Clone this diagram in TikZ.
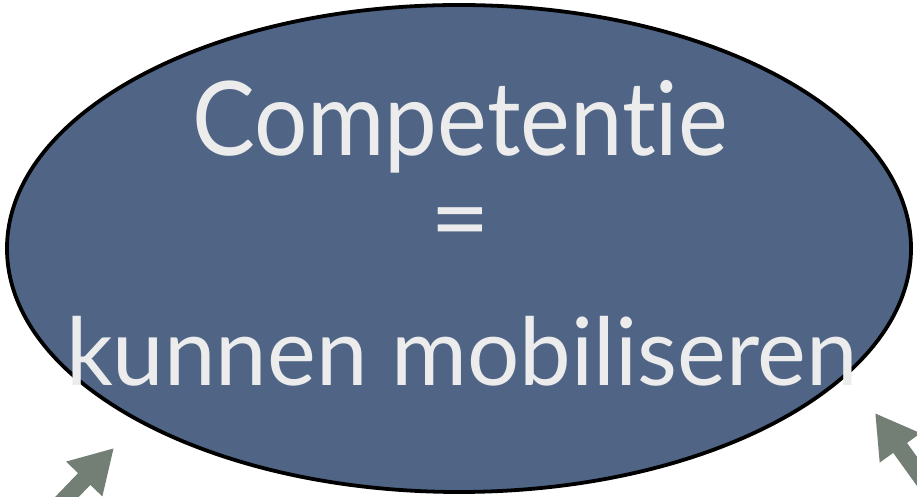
\documentclass[tikz,border=0pt]{standalone}
\usepackage{fontspec}
\setmainfont{Lato}[Ligatures={NoCommon,NoRequired,NoContextual}]
\usetikzlibrary{arrows.meta,shapes.geometric}
\definecolor{ellfill}{RGB}{80,101,134}
\definecolor{txtcol}{RGB}{236,236,236}
\definecolor{arrcol}{RGB}{115,126,116}
\newsavebox\boxA
\newsavebox\boxB
\newsavebox\boxC
\tikzset{
  arrowline/.style={draw=arrcol, line width=17pt,
    -{Triangle[length=43pt,width=47pt]}, arrcol},
  bigellipse/.style={ellipse, draw=black, line width=3.8pt, fill=ellfill,
    minimum width=904pt, minimum height=487pt, inner sep=0pt},
  bigtext/.style={text=txtcol, inner sep=0pt, outer sep=0pt}
}
\begin{document}
\sbox\boxA{\color{txtcol}\fontsize{103}{103}\selectfont Competent\kern0pt ie}%
\sbox\boxB{\color{txtcol}\fontsize{94}{94}\selectfont kunnen mobiliseren}%
\sbox\boxC{\color{txtcol}\fontsize{103}{103}\selectfont =}%
\pgfmathsetmacro\sA{536/\wd\boxA}%
\pgfmathsetmacro\sB{792/\wd\boxB}%
\begin{tikzpicture}[x=1pt,y=1pt]
\useasboundingbox (0,0) rectangle (917,497);
\clip (0,0) rectangle (917,497);
\fill[white] (0,0) rectangle (917,497);
% arrows
\coordinate (la0) at (40,-28);
\coordinate (la1) at (114,49);
\coordinate (ra0) at (934,2);
\coordinate (ra1) at (875,84);
\draw[arrowline] (la0) -- (la1);
\draw[arrowline] (ra0) -- (ra1);
% ellipse
\node[bigellipse] (ell) at (459,248.5) {};
% texts
\node[bigtext, anchor=base, xscale=\sA] (l1) at (460,341) {\usebox\boxA};
\node[bigtext, anchor=center] (eq) at (460,265.5) {\usebox\boxC};
\node[bigtext, anchor=base, xscale=\sB] (l2) at (462,111) {\usebox\boxB};
\end{tikzpicture}
\end{document}
